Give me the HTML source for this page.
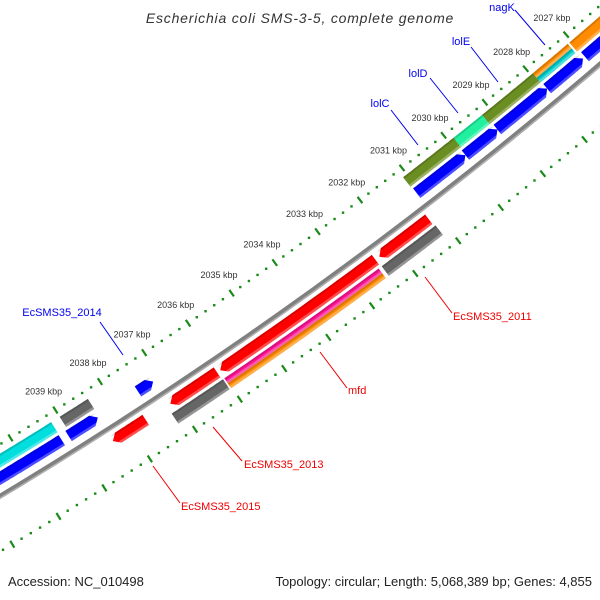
<!DOCTYPE html>
<html><head><meta charset="utf-8"><style>
body{margin:0;background:#fff}
svg{display:block;font-family:"Liberation Sans","DejaVu Sans",sans-serif}
</style></head><body>
<svg id="map" width="600" height="600" viewBox="0 0 600 600" xmlns="http://www.w3.org/2000/svg">
<rect width="600" height="600" fill="#fff"/>
<g id="ticks"></g>
<g id="feats"></g>
<g id="labels"></g>
<text x="300" y="23" text-anchor="middle" font-size="14" font-style="italic" fill="#333" letter-spacing="0.8">Escherichia coli SMS-3-5, complete genome</text>
<text x="8" y="586" font-size="13" fill="#222">Accession: NC_010498</text>
<text x="592" y="586" text-anchor="end" font-size="13" fill="#222">Topology: circular; Length: 5,068,389 bp; Genes: 4,855</text>
</svg>
<script>
// data
const tickKbp = [2027,2028,2029,2030,2031,2032,2033,2034,2035,2036,2037,2038,2039];
const featStart = [2041,2039.0,2031.09,2029.88,2029.19,2027.95,2027.95,2027.05,
                   2041,2039.05,2037.5,2031.07,2029.91,2029.14,2027.93,2027.0,
                   2038.4,2037.12,2036.0,2032.35,
                   2037.2,2036.02,2036.02,2032.42];
const featEnd   = [2039.19,2038.37,2029.88,2029.19,2027.95,2027.09,2027.09,2025.5,
                   2039.2,2038.4,2037.16,2029.91,2029.14,2027.93,2027.05,2025.5,
                   2037.67,2036.07,2032.44,2031.19,
                   2036.05,2032.49,2032.49,2031.16];
const featRow   = ['oc','o','o','o','o','ot','cb','o',
                   'b','b','b','b','b','b','b','b',
                   'r','r','r','r',
                   'g','pt','ob','g'];
const featColor = ['#00dede','#666666','#6b8e23','#20f0a0','#6b8e23','#ff8c00','#00cccc','#ff8c00',
                   '#0000ff','#0000ff','#0000ff','#0000ff','#0000ff','#0000ff','#0000ff','#0000ff',
                   '#ff0000','#ff0000','#ff0000','#ff0000',
                   '#666666','#ff1493','#ff8c00','#666666'];
const featArrow = [0,0,0,0,0,0,0,0, 0,1,1,1,1,1,1,0, -1,-1,-1,-1, 0,0,0,0];
const labelText = ['EcSMS35_2014','lolC','lolD','lolE','nagK','EcSMS35_2011','mfd','EcSMS35_2013','EcSMS35_2015'];
const labelColor= ['#0000ee','#0000ee','#0000ee','#0000ee','#0000ee','#ee0000','#ee0000','#ee0000','#ee0000'];

const CX=-2282, CY=-3306;
function ang(k){return (52.31+(k-2031)*0.69)*Math.PI/180;}
function pt(k,r){const a=ang(k);return [CX+r*Math.cos(a),CY+r*Math.sin(a)];}
const NS="http://www.w3.org/2000/svg";
function mk(tag,attrs,parent){const e=document.createElementNS(NS,tag);for(const k in attrs)e.setAttribute(k,attrs[k]);parent.appendChild(e);return e;}
const rows={o:[4398,4410],oc:[4398,4410],ot:[4398,4404],cb:[4404,4410],b:[4413,4425],r:[4441,4453],g:[4456,4468],pt:[4456,4462],ob:[4462,4468]};

function band(a,b,r1,r2,arrow){
  const pts=[];const n=30;const lo=Math.min(a,b),hi=Math.max(a,b);
  const h=Math.min(0.12,(hi-lo)*0.4);const rm=(r1+r2)/2;
  let s=lo,e=hi;
  if(arrow===1) s=lo+h; if(arrow===-1) e=hi-h;
  for(let i=0;i<=n;i++)pts.push(pt(s+(e-s)*i/n,r1));
  if(arrow===-1)pts.push(pt(hi,rm));
  for(let i=n;i>=0;i--)pts.push(pt(s+(e-s)*i/n,r2));
  if(arrow===1)pts.push(pt(lo,rm));
  return pts.map(p=>p[0].toFixed(1)+','+p[1].toFixed(1)).join(' ');
}
const tg=document.getElementById('ticks');
// backbone
let bb=mk('polygon',{points:band(2044,2022,4432,4437,0),fill:'#808080'},tg);


let bb2=mk('polygon',{points:band(2044,2022,4435.5,4437,0),fill:'#b0b0b0'},tg);


// tick rings
[4390,4482].forEach(R=>{
  for(let k=2022;k<=2044.001;k+=0.2){
    const kk=Math.round(k*10)/10;
    const major=Math.abs(kk-Math.round(kk))<0.01;
    if(major){
      const p1=pt(kk,R-4),p2=pt(kk,R+4);
      const l=mk('line',{x1:p1[0],y1:p1[1],x2:p2[0],y2:p2[1],stroke:'#1a8a1a','stroke-width':2.2},tg);
      
      
    }else{
      const p=pt(kk,R);
      const c=mk('rect',{x:p[0]-1.2,y:p[1]-1.2,width:2.4,height:2.4,fill:'#1a8a1a'},tg);
      
      
    }
  }
});
tickKbp.forEach(k=>{
  const p=pt(k,4368);
  const t=mk('text',{x:p[0],y:p[1]+3,'text-anchor':'middle','font-size':9,fill:'#333'},tg);
  t.textContent=k+' kbp';
  
  
});
// features
const fg=document.getElementById('feats');
for(let i=0;i<featStart.length;i++){
  const rr=rows[featRow[i]];
  const p=mk('polygon',{points:band(featStart[i],featEnd[i],rr[0],rr[1],featArrow[i]),fill:featColor[i]},fg);
  
  
  const hi=mk('polygon',{points:band(featStart[i],featEnd[i],rr[1]-2.5,rr[1],featArrow[i]),fill:'#fff','fill-opacity':0.3},fg);
  
  
  const dk=mk('polygon',{points:band(featStart[i],featEnd[i],rr[0],rr[0]+2,featArrow[i]),fill:'#000','fill-opacity':0.15},fg);
  
  
}
// labels
const lg=document.getElementById('labels');
const lblPos=[[62,316,'middle',100,322,123,355],[380,107,'middle',391,110,418,145],[418,77,'middle',430,78,458,113],
  [461,45,'middle',471,47,498,82],[502,11,'middle',515,10,545,45],[453,320,'start',425,277,452,313],
  [348,394,'start',320,352,347,388],[244,468,'start',213,427,242,461],[181,510,'start',153,466,180,503]];
labelText.forEach((s,i)=>{
  const q=lblPos[i];
  const l=mk('line',{x1:q[3],y1:q[4],x2:q[5],y2:q[6],stroke:labelColor[i],'stroke-width':1},lg);
  
  
  const t=mk('text',{x:q[0],y:q[1],'text-anchor':q[2],'font-size':11,fill:labelColor[i]},lg);
  t.textContent=s;
  
  
});
</script>
</body></html>
